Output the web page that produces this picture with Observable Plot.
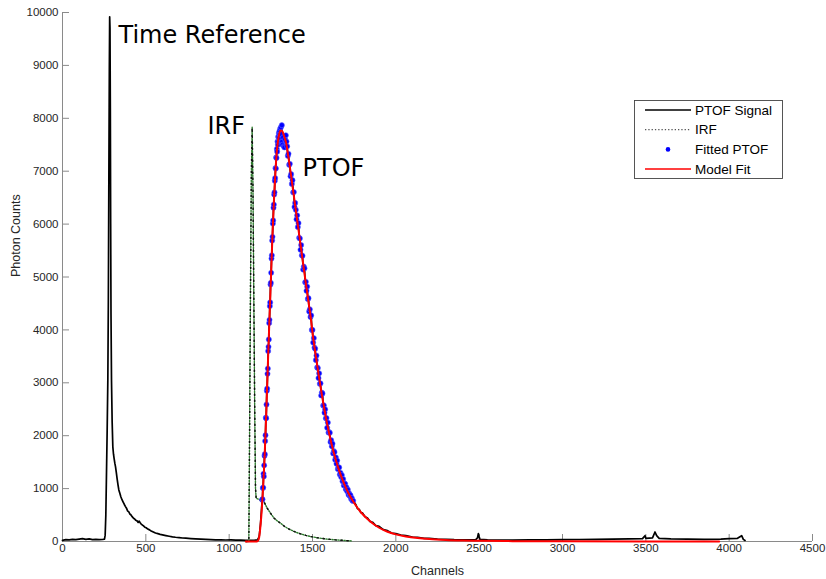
<!DOCTYPE html>
<html>
<head>
<meta charset="utf-8">
<script src="https://cdn.jsdelivr.net/npm/d3@7"></script>
<script src="https://cdn.jsdelivr.net/npm/@observablehq/plot@0.6"></script>
<style>
  body { margin: 0; background: #fff; }
  #chart { width: 826px; height: 579px; }
</style>
</head>
<body>
<div id="chart"></div>
<script>
// Axis ticks
const xTicks = [0, 500, 1000, 1500, 2000, 2500, 3000, 3500, 4000, 4500];
const yTicks = [0, 1000, 2000, 3000, 4000, 5000, 6000, 7000, 8000, 9000, 10000];

// PTOF signal before the fitted window (baseline + time-reference spike and its tail)
const sigPreChannels = [0, 20, 40, 60, 80, 100, 120, 140, 160, 180, 200, 220, 240, 252,
  256, 260, 264, 268, 272, 275, 278, 281, 283, 285, 287, 289, 291, 294, 298,
  302, 306, 310, 314, 318, 323, 328, 333, 338, 344, 350, 357, 364, 371, 378, 384,
  390, 398, 404, 410, 418, 426, 433, 440, 447, 454, 460, 466, 472, 478, 486, 494,
  502, 512, 522, 532, 545, 558, 572, 586, 600, 620, 640, 660, 678, 700, 720, 740,
  770, 798, 830, 860, 890, 918, 950, 980, 1010, 1040, 1070, 1100, 1150, 1170,
  1180, 1188, 1194];
const sigPreCounts = [20, 35, 30, 40, 35, 45, 55, 40, 50, 35, 40, 35, 38, 45,
  120, 500, 1300, 2100, 3050, 4500, 6800, 8900, 9920, 9700, 8200, 6000, 4300, 3050, 2250,
  1790, 1650, 1560, 1480, 1415, 1300, 1180, 1070, 975, 910, 845, 790, 745, 700, 660, 630,
  580, 560, 520, 505, 470, 440, 425, 400, 390, 360, 385, 355, 330, 315, 295, 270,
  260, 235, 220, 200, 180, 160, 148, 135, 125, 112, 100, 88, 80, 72, 66, 62,
  55, 50, 45, 42, 36, 32, 30, 28, 30, 26, 25, 22, 20, 30,
  90, 330, 600];

// Fitted PTOF samples: rising edge (every 2 channels) and falling edge (every 4 channels)
const fitRiseStart = 1198, fitRiseStep = 2;
const fitRiseCounts = [790, 800, 1010, 1020, 1280, 1230, 1440, 1620, 1650, 1900,
  2010, 2340, 2330, 2590, 2850, 2890, 3170, 3270, 3600, 3680,
  3820, 4130, 4190, 4450, 4520, 4860, 4890, 5080, 5350, 5410,
  5690, 5760, 6010, 6070, 6310, 6370, 6560, 6600, 6820, 6870,
  7060, 7050, 7260, 7250, 7420, 7370, 7560, 7500, 7650, 7560,
  7720, 7640, 7760, 7690, 7800, 7580, 7830, 7620, 7700, 7870,
  7560, 7500];
const fitFallStart = 1324, fitFallStep = 4;
const fitFallCounts = [7640, 7470, 7450, 7600, 7680, 7560, 7470, 7290, 7330, 7120,
  7140, 6905, 6945, 6760, 6830, 6600, 6605, 6325, 6400, 6270,
  6090, 6165, 5945, 6020, 5740, 5730, 5515, 5605, 5410, 5400,
  5140, 5195, 5165, 4900, 4910, 4740, 4820, 4585, 4600, 4350,
  4390, 4245, 4275, 4000, 4000, 3760, 3845, 3665, 3645, 3430,
  3515, 3290, 3280, 3090, 3180, 2980, 2990, 2760, 2815, 2800,
  2570, 2575, 2435, 2500, 2330, 2335, 2150, 2250, 2060, 2070,
  2055, 1880, 1915, 1800, 1850, 1665, 1710, 1690, 1545, 1590,
  1470, 1530, 1370, 1400, 1400, 1265, 1300, 1220, 1255, 1140,
  1180, 1060, 1100, 1090, 990, 1025, 950, 980, 885, 910,
  860, 875, 805, 820, 770, 770];

// PTOF signal after the fitted window (tail and late baseline)
const sigPostChannels = [1750, 1760, 1770, 1780, 1790, 1800, 1815, 1830, 1845, 1860,
  1880, 1900, 1925, 1950, 1975, 2000, 2030, 2060, 2100, 2130, 2170, 2200, 2250,
  2300, 2350, 2400, 2450, 2480, 2490, 2495, 2500, 2505, 2550, 2600, 2700, 2800,
  2900, 3000, 3100, 3200, 3300, 3400, 3480, 3495, 3500, 3540, 3555, 3565, 3580,
  3650, 3750, 3850, 3950, 4000, 4050, 4075, 4085, 4095];
const sigPostCounts = [740, 700, 620, 610, 545, 540, 470, 445, 380, 365,
  300, 285, 225, 205, 160, 150, 120, 110, 85, 80, 60, 58, 45,
  42, 35, 33, 30, 35, 70, 150, 90, 40, 30, 28, 27, 30,
  32, 35, 38, 40, 45, 50, 55, 110, 60, 70, 180, 110, 60,
  50, 45, 40, 45, 55, 60, 110, 40, 20];

// Instrument response function
const irfChannels = [1100, 1118, 1122, 1128, 1133, 1138, 1143, 1148, 1153, 1158, 1162,
  1175, 1190, 1208, 1230, 1248, 1270, 1290, 1308, 1330, 1350, 1368, 1400, 1428,
  1460, 1488, 1530, 1588, 1640, 1700, 1738];
const irfCounts = [0, 0, 1800, 4800, 6900, 7830, 6600, 4600, 2600, 1000, 820,
  800, 780, 755, 620, 535, 440, 385, 347, 290, 250, 220, 175, 145,
  115, 95, 70, 45, 30, 18, 10];

// Model fit
const modelChannels = [1100, 1165, 1172, 1180, 1188, 1196, 1204, 1212, 1220, 1228, 1236,
  1244, 1252, 1260, 1268, 1276, 1284, 1292, 1300, 1310, 1318, 1326, 1334, 1340,
  1350, 1360, 1370, 1380, 1390, 1400, 1420, 1440, 1460, 1480, 1490, 1500, 1520,
  1540, 1560, 1580, 1600, 1620, 1640, 1660, 1680, 1700, 1720, 1740, 1760, 1780,
  1800, 1830, 1860, 1900, 1950, 2000, 2060, 2130, 2200, 2300, 2400, 2500, 2700,
  3000, 3500, 3940];
const modelCounts = [0, 0, 10, 80, 300, 620, 1050, 1550, 2200, 2950, 3700,
  4400, 5100, 5800, 6400, 6900, 7300, 7550, 7700, 7770, 7760, 7700, 7620, 7560,
  7380, 7170, 6950, 6720, 6490, 6260, 5800, 5340, 4880, 4440, 4220, 3950, 3500,
  3090, 2700, 2350, 2040, 1770, 1540, 1340, 1170, 1020, 890, 780, 680, 595,
  520, 425, 345, 260, 185, 135, 95, 65, 45, 28, 18, 12, 7,
  4, 2, 1];

// Annotations
const noteTexts = ["Time Reference", "IRF", "PTOF"];
const noteChannels = [336, 870, 1440];
const noteCounts = [9430, 7711, 6900];

// Legend entries
const legendLabels = ["PTOF Signal", "IRF", "Fitted PTOF", "Model Fit"];

// ---- build records ----
const zip = (xs, ys) => xs.map((x, i) => ({channel: x, counts: ys[i]}));
const fitted = [
  ...fitRiseCounts.map((c, i) => ({channel: fitRiseStart + i * fitRiseStep, counts: c})),
  ...fitFallCounts.map((c, i) => ({channel: fitFallStart + i * fitFallStep, counts: c}))
];
const signal = [...zip(sigPreChannels, sigPreCounts), ...fitted, ...zip(sigPostChannels, sigPostCounts)];
const irf = zip(irfChannels, irfCounts);
const model = zip(modelChannels, modelCounts);
const notes = noteTexts.map((t, i) => ({text: t, channel: noteChannels[i], counts: noteCounts[i]}));

const axisGray = "#8a8a8a";
const labelColor = "#262626";
const sans = "'Liberation Sans', Arial, Helvetica, sans-serif";

const svg = Plot.plot({
  width: 826,
  height: 579,
  marginLeft: 62,
  marginRight: 14,
  marginTop: 12,
  marginBottom: 38,
  style: {fontFamily: sans, background: "#fff", overflow: "visible"},
  x: {domain: [0, 4500]},
  y: {domain: [0, 10000]},
  marks: [
    // axis lines
    Plot.ruleY([0], {stroke: axisGray, strokeWidth: 1}),
    Plot.ruleX([0], {stroke: axisGray, strokeWidth: 1}),
    // inward tick marks
    Plot.ruleX(xTicks, {x: d => d, y1: 0, y2: 0, insetBottom: 7, stroke: axisGray}),
    Plot.ruleY(yTicks, {y: d => d, x1: 0, x2: 0, insetRight: -7, stroke: axisGray}),
    // tick labels
    Plot.axisX(xTicks, {tickSize: 0, tickPadding: 2, label: null, fontSize: 11.5, color: labelColor, tickFormat: d3.format("d")}),
    Plot.axisY(yTicks, {tickSize: 0, tickPadding: 4, label: null, fontSize: 11.5, color: labelColor, tickFormat: d3.format("d")}),
    // axis titles
    Plot.text(["Channels"], {frameAnchor: "bottom", dy: 29, fontSize: 12.5, fill: labelColor, lineAnchor: "middle"}),
    Plot.text(["Photon Counts"], {frameAnchor: "left", dx: -47, rotate: -90, fontSize: 12.5, fill: labelColor, lineAnchor: "middle"}),
    // data
    Plot.line(signal, {x: "channel", y: "counts", stroke: "#000", strokeWidth: 1.7}),
    Plot.line(irf, {x: "channel", y: "counts", stroke: "#2f7f2f", strokeWidth: 1.4, strokeDasharray: "1.4,1.6"}),
    Plot.line(irf, {x: "channel", y: "counts", stroke: "#111", strokeWidth: 1.4, strokeDasharray: "1.4,4.6"}),
    Plot.dot(fitted, {x: "channel", y: "counts", r: 2.6, fill: "#0000ff", stroke: "#6a6aff", strokeWidth: 1, strokeOpacity: 0.55}),
    Plot.line(model, {x: "channel", y: "counts", stroke: "#ff0000", strokeWidth: 2, curve: "monotone-x"}),
    // annotations
    Plot.text(notes, {x: "channel", y: "counts", text: "text", textAnchor: "start", lineAnchor: "bottom",
      fontSize: 24, fill: "#000", fontFamily: "'DejaVu Sans', Verdana, sans-serif"})
  ]
});

// legend box
const lg = d3.select(svg).append("g")
  .attr("font-family", sans).attr("font-size", 13.5).attr("text-anchor", "start");
lg.append("rect").attr("x", 634.5).attr("y", 100.5).attr("width", 148).attr("height", 78)
  .attr("fill", "#fff").attr("stroke", "#444").attr("stroke-width", 0.9);
const rowY = [110, 129.7, 149.4, 169];
legendLabels.forEach((label, i) => {
  const y = rowY[i];
  if (i === 0) lg.append("line").attr("x1", 645).attr("x2", 691).attr("y1", y).attr("y2", y).attr("stroke", "#000").attr("stroke-width", 1.6);
  if (i === 1) lg.append("line").attr("x1", 645).attr("x2", 691).attr("y1", y).attr("y2", y).attr("stroke", "#555").attr("stroke-width", 1.2).attr("stroke-dasharray", "1.3,2");
  if (i === 2) lg.append("circle").attr("cx", 668).attr("cy", y).attr("r", 2.3).attr("fill", "#0000ff");
  if (i === 3) lg.append("line").attr("x1", 645).attr("x2", 691).attr("y1", y).attr("y2", y).attr("stroke", "#ff0000").attr("stroke-width", 1.6);
  lg.append("text").attr("x", 695).attr("y", y).attr("dy", "0.35em").attr("text-anchor", "start").attr("fill", "#000").text(label);
});

document.getElementById("chart").appendChild(svg);
</script>
</body>
</html>
